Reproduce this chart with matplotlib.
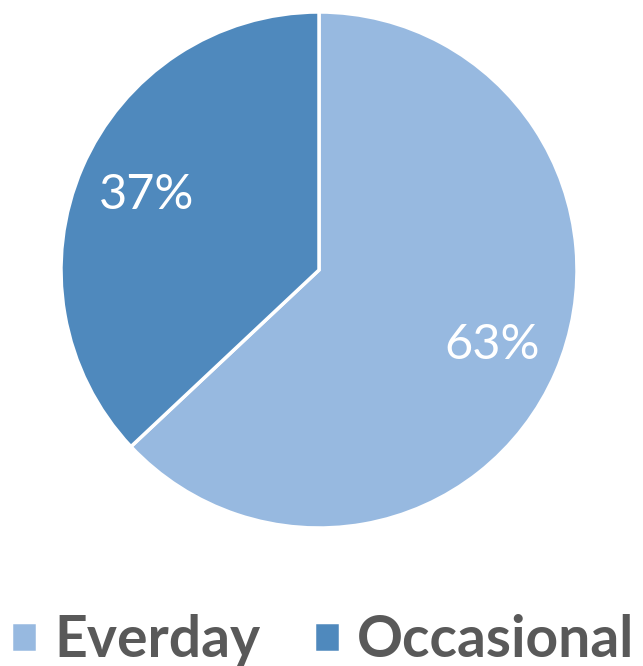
import matplotlib.pyplot as plt

categorias = ['Everday', 'Occasional']
porcentajes = [63, 37]
colores = ['#97B9E0', '#4F89BD']

fig = plt.figure(figsize=(6.43, 6.66), dpi=100)
ax = fig.add_axes([61 / 643, (666 - 528) / 666, 516 / 643, 516 / 666])

wedges, textos, autotextos = ax.pie(
    porcentajes, colors=colores, startangle=90, counterclock=False,
    autopct='%d%%', pctdistance=0.73,
    wedgeprops={'edgecolor': 'white', 'linewidth': 2.5},
    textprops={'color': 'white', 'fontsize': 35, 'family': 'Lato'})
ax.set_xlim(-1, 1)
ax.set_ylim(-1, 1)
ax.set_aspect('equal')

fig.legend(wedges, categorias, loc='lower left', bbox_to_anchor=(-0.062, -0.079),
           ncol=2, frameon=False, handlelength=0.45, handleheight=0.45,
           handletextpad=0.3, columnspacing=0.95,
           prop={'family': 'Lato', 'weight': 'bold', 'size': 41},
           labelcolor='#595959')

fig.savefig('out.png', dpi=100)
